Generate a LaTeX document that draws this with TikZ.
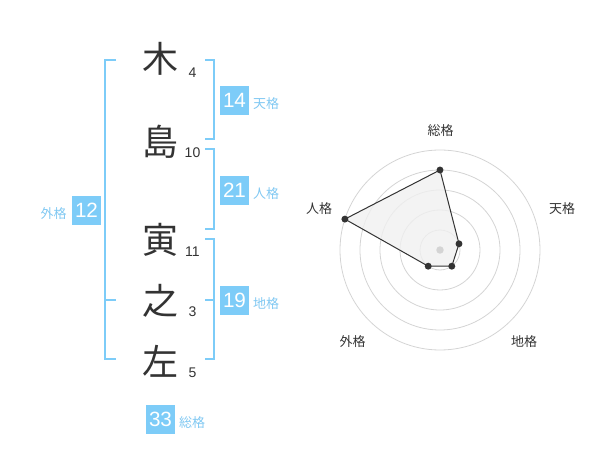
\documentclass[tikz,border=0pt]{standalone}
\usepackage{fontspec}
\setmainfont{Liberation Sans}
\newfontfamily\cjk{Noto Sans CJK JP}
\definecolor{kbox}{RGB}{125,204,248}
\definecolor{klbl}{RGB}{128,200,242}
\definecolor{kdark}{RGB}{51,51,51}
\definecolor{kgrid}{RGB}{212,212,212}
\definecolor{kfill}{RGB}{240,240,240}
\begin{document}
\begin{tikzpicture}[x=0.75pt,y=-0.75pt,
  kanji/.style={inner sep=0pt,text=kdark,font=\cjk\fontsize{27pt}{27pt}\selectfont},
  strokes/.style={inner sep=0pt,text=kdark,font=\fontsize{10.5pt}{10.5pt}\selectfont},
  numbox/.style={fill=kbox,text=white,inner sep=0pt,minimum size=21.75pt,font=\fontsize{15.5pt}{15.5pt}\selectfont},
  lbl/.style={inner sep=0pt,text=klbl,font=\cjk\fontsize{9.75pt}{9.75pt}\selectfont},
  rlbl/.style={inner sep=0pt,text=kdark,font=\cjk\fontsize{9.75pt}{9.75pt}\selectfont},
  brk/.style={draw=kbox,line width=1.5pt},
  grid/.style={draw=kgrid,line width=0.6pt},
  dot/.style={fill=kdark}]
\useasboundingbox (0,0) rectangle (600,470);
% characters
\node[kanji] (c1) at (160,59) {木};
\node[kanji] (c2) at (160,141.5) {島};
\node[kanji] (c3) at (160,240) {寅};
\node[kanji] (c4) at (160,301) {之};
\node[kanji] (c5) at (160,361) {左};
% stroke counts
\node[strokes] (s1) at (192.5,73) {4};
\node[strokes] (s2) at (192.5,152.5) {10};
\node[strokes] (s3) at (192.5,252) {11};
\node[strokes] (s4) at (192.5,312) {3};
\node[strokes] (s5) at (192.5,372.5) {5};
% brackets
\draw[brk] (116,60) -- (105,60) -- (105,359) -- (116,359);
\draw[brk] (105,300) -- (116,300);
\draw[brk] (205,60) -- (214,60) -- (214,139) -- (205,139);
\draw[brk] (205,149) -- (214,149) -- (214,229) -- (205,229);
\draw[brk] (205,239.5) -- (214,239.5) -- (214,359) -- (205,359);
\draw[brk] (205,300) -- (214,300);
% boxes and labels
\node[numbox] (b1) at (234.5,100.5) {14};
\node[lbl] (l1) at (266,103.5) {天格};
\node[numbox] (b2) at (234.5,190.5) {21};
\node[lbl] (l2) at (266,193.5) {人格};
\node[numbox] (b3) at (234.5,300.5) {19};
\node[lbl] (l3) at (266,303.5) {地格};
\node[numbox] (b4) at (86.5,210.5) {12};
\node[lbl] (l4) at (53.5,213.5) {外格};
\node[numbox] (b5) at (160.5,419.5) {33};
\node[lbl] (l5) at (192,422.5) {総格};
% radar chart
\coordinate (rc) at (440,250);
\foreach \r in {20,40,60,80,100} \draw[grid] (rc) circle[radius=0.75*\r pt];
\coordinate (p1) at (440,170);
\coordinate (p2) at (459,243.8);
\coordinate (p3) at (451.8,266.2);
\coordinate (p4) at (428.2,266.2);
\coordinate (p5) at (344.9,219.1);
\filldraw[fill=kfill,fill opacity=0.8,draw=kdark,line width=0.75pt] (p1) -- (p2) -- (p3) -- (p4) -- (p5) -- cycle;
\fill[kgrid] (rc) circle[radius=2.8pt];
\foreach \p in {p1,p2,p3,p4,p5} \fill[dot] (\p) circle[radius=2.6pt];
\node[rlbl] (r1) at (440.5,130.5) {総格};
\node[rlbl] (r2) at (562,208.5) {天格};
\node[rlbl] (r3) at (524,342) {地格};
\node[rlbl] (r4) at (352.5,342) {外格};
\node[rlbl] (r5) at (319,209) {人格};
\end{tikzpicture}
\end{document}
